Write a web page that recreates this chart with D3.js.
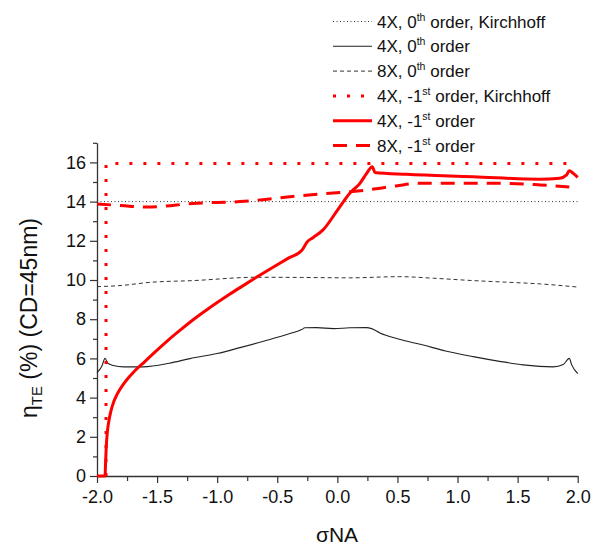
<!DOCTYPE html>
<html>
<head>
<meta charset="utf-8">
<script src="https://cdn.jsdelivr.net/npm/d3@7"></script>
<style>
  html, body { margin: 0; padding: 0; background: #fff; }
  svg { display: block; font-family: "Liberation Sans", Arial, sans-serif; }
</style>
</head>
<body>
<svg id="chart" width="603" height="545"></svg>
<script>
// ---- data ----
const kirch0X = [-2, 2];
const kirch0Y = [14.0, 14.0];

const kirchM1X = [-1.925, -1.925, 1.93];
const kirchM1Y = [0, 15.95, 15.95];

const x4o0X = [-2, -1.96, -1.933, -1.91, -1.864, -1.78, -1.615, -1.4, -1.226, -1.0, -0.81, -0.6, -0.394, -0.297, -0.27, -0.172, -0.034, 0.105, 0.244, 0.285, 0.354, 0.5, 0.715, 0.9, 1.13, 1.35, 1.546, 1.796, 1.88, 1.93, 1.95, 2.0];
const x4o0Y = [5.27, 5.6, 6.0, 5.75, 5.64, 5.57, 5.57, 5.75, 5.99, 6.25, 6.55, 6.9, 7.27, 7.47, 7.56, 7.57, 7.52, 7.56, 7.57, 7.52, 7.3, 7.0, 6.68, 6.38, 6.09, 5.85, 5.67, 5.57, 5.69, 6.0, 5.67, 5.23];

const x8o0X = [-2, -1.8, -1.56, -1.2, -0.67, -0.3, 0.1, 0.52, 0.8, 1.13, 1.4, 1.69, 2.0];
const x8o0Y = [9.66, 9.72, 9.88, 9.97, 10.14, 10.13, 10.11, 10.17, 10.09, 9.97, 9.89, 9.8, 9.64];

const x4m1X = [-2, -1.933, -1.928, -1.922, -1.913, -1.9, -1.885, -1.86, -1.83, -1.79, -1.74, -1.70, -1.6, -1.5, -1.4, -1.3, -1.2, -1.1, -1.0, -0.9, -0.8, -0.67, -0.5, -0.4, -0.297, -0.25, -0.2, -0.117, 0.0, 0.105, 0.188, 0.244, 0.29, 0.313, 0.577, 1.13, 1.686, 1.85, 1.908, 1.93, 1.963, 2.0];
const x4m1Y = [0, 0, 0.8, 1.6, 2.3, 2.85, 3.3, 3.8, 4.2, 4.6, 5.0, 5.27, 5.85, 6.42, 6.97, 7.48, 7.97, 8.42, 8.85, 9.26, 9.65, 10.15, 10.78, 11.14, 11.5, 11.95, 12.17, 12.57, 13.55, 14.44, 14.93, 15.44, 15.78, 15.49, 15.39, 15.27, 15.14, 15.19, 15.36, 15.58, 15.44, 15.24];

const x8m1X = [-2, -1.8, -1.587, -1.17, -0.81, -0.62, -0.34, -0.006, 0.19, 0.49, 0.66, 1.41, 1.69, 1.93];
const x8m1Y = [13.88, 13.8, 13.72, 13.92, 14.0, 14.1, 14.28, 14.45, 14.55, 14.8, 14.93, 14.93, 14.85, 14.74];

const xTicks = [-2.0, -1.5, -1.0, -0.5, 0.0, 0.5, 1.0, 1.5, 2.0];
const xMinorTicks = [-1.75, -1.25, -0.75, -0.25, 0.25, 0.75, 1.25, 1.75];
const yTicks = [0, 2, 4, 6, 8, 10, 12, 14, 16];
const yMinorTicks = [1, 3, 5, 7, 9, 11, 13, 15, 17];

const legendPre = ["4X, 0", "4X, 0", "8X, 0", "4X, -1", "4X, -1", "8X, -1"];
const legendSup = ["th", "th", "th", "st", "st", "st"];
const legendPost = [" order, Kirchhoff", " order", " order", " order, Kirchhoff", " order", " order"];

// ---- styles (not data) ----
const styles = [
  { color: "#333", width: 1, dash: "1,2.5", smooth: false },
  { color: "#222", width: 1.1, dash: null, smooth: true },
  { color: "#333", width: 1, dash: "4,3", smooth: true },
  { color: "#f00", width: 3, dash: "3,11", smooth: false },
  { color: "#f00", width: 3, dash: null, smooth: true },
  { color: "#f00", width: 3, dash: "14,9", smooth: true }
];
const seriesX = [kirch0X, x4o0X, x8o0X, kirchM1X, x4m1X, x8m1X];
const seriesY = [kirch0Y, x4o0Y, x8o0Y, kirchM1Y, x4m1Y, x8m1Y];

const svg = d3.select("#chart");
const x = d3.scaleLinear().domain([-2, 2]).range([97, 577.7]);
const y = d3.scaleLinear().domain([0, 17]).range([476, 142.8]);

const fmt = v => d3.format(".1f")(v).replace("\u2212", "-");

// minor ticks
svg.append("g").attr("transform", "translate(0,476)")
  .call(d3.axisBottom(x).tickValues(xMinorTicks).tickSize(5).tickFormat(""))
  .call(g => g.select(".domain").remove())
  .call(g => g.selectAll("line").attr("stroke", "#333").attr("stroke-width", 1.2));
svg.append("g").attr("transform", "translate(97,0)")
  .call(d3.axisLeft(y).tickValues(yMinorTicks).tickSize(4).tickFormat(""))
  .call(g => g.select(".domain").remove())
  .call(g => g.selectAll("line").attr("stroke", "#333").attr("stroke-width", 1.2));

// major axes
const xAxis = svg.append("g").attr("transform", "translate(0,476)")
  .call(d3.axisBottom(x).tickValues(xTicks).tickSize(7).tickSizeOuter(0).tickPadding(7).tickFormat(fmt));
const yAxis = svg.append("g").attr("transform", "translate(97,0)")
  .call(d3.axisLeft(y).tickValues(yTicks).tickSize(7).tickSizeOuter(0).tickPadding(4).tickFormat(d3.format("d")));
[xAxis, yAxis].forEach(a => {
  a.select(".domain").attr("stroke", "#333").attr("stroke-width", 1.3);
  a.selectAll("line").attr("stroke", "#333").attr("stroke-width", 1.2);
  a.selectAll("text").attr("fill", "#111").style("font-size", "18px")
    .style("font-family", "'Liberation Sans', Arial, sans-serif");
});

// lines
seriesX.forEach((xs, i) => {
  const pts = xs.map((v, j) => [v, seriesY[i][j]]);
  const s = styles[i];
  const line = d3.line().x(d => x(d[0])).y(d => y(d[1]))
    .curve(s.smooth ? d3.curveMonotoneX : d3.curveLinear);
  svg.append("path").datum(pts)
    .attr("d", line)
    .attr("fill", "none")
    .attr("stroke", s.color)
    .attr("stroke-width", s.width)
    .attr("stroke-linejoin", "round")
    .attr("stroke-dasharray", s.dash);
});

// legend
const legY0 = 21.5, legDy = 24.8;
legendPre.forEach((t, i) => {
  const yy = legY0 + i * legDy;
  const s = styles[i];
  svg.append("line")
    .attr("x1", 333).attr("x2", 372).attr("y1", yy).attr("y2", yy)
    .attr("stroke", s.color).attr("stroke-width", s.width)
    .attr("stroke-dasharray", s.dash);
  const tx = svg.append("text").attr("x", 377).attr("y", yy + 6)
    .style("font-size", "17px").attr("fill", "#111");
  tx.append("tspan").text(t);
  tx.append("tspan").attr("dy", -7).style("font-size", "10.5px").text(legendSup[i]);
  tx.append("tspan").attr("dy", 7).text(legendPost[i]);
});

// axis titles
svg.append("text").attr("x", 337).attr("y", 542).attr("text-anchor", "middle")
  .style("font-size", "21px").attr("fill", "#111").text("\u03c3NA");

const yl = svg.append("text")
  .attr("transform", "translate(37,318) rotate(-90)")
  .attr("text-anchor", "middle").style("font-size", "23px").attr("fill", "#111");
yl.append("tspan").text("\u03b7");
yl.append("tspan").attr("dy", 5).style("font-size", "15px").text("TE");
yl.append("tspan").attr("dy", -5).text(" (%) (CD=45nm)");
</script>
</body>
</html>
